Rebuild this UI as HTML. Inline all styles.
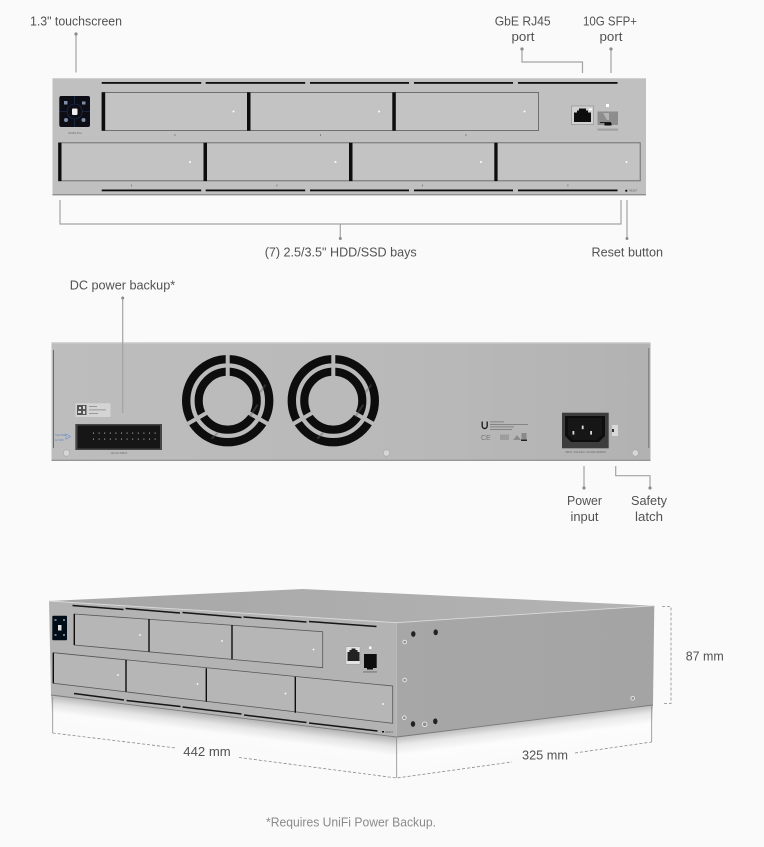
<!DOCTYPE html>
<html><head><meta charset="utf-8"><style>
html,body{margin:0;padding:0;background:#fafafa}
svg{display:block}
text{font-family:"Liberation Sans",sans-serif;fill:#525252;font-size:13px}
.t{font-size:2.5px;fill:#666}
.l{stroke:#a3a3a3;stroke-width:1.2;fill:none}
.d{fill:#8c8c8c}
.dash{stroke:#8a8a8a;stroke-width:.8;stroke-dasharray:3 2;fill:none}
.b{fill:#c3c3c3;stroke:#666;stroke-width:.9}
.k{fill:#0c0c0c}
.s{filter:url(#soft)}
</style></head><body>
<svg width="764" height="847" viewBox="0 0 764 847" xmlns="http://www.w3.org/2000/svg">
<defs>
<filter id="soft" x="-5%" y="-5%" width="110%" height="110%"><feGaussianBlur stdDeviation=".35"/></filter>
<linearGradient id="back" x1="0" y1="0" x2="1" y2="0"><stop offset="0" stop-color="#bdbdbd"/><stop offset=".6" stop-color="#b9b9b9"/><stop offset="1" stop-color="#b2b2b2"/></linearGradient>
<linearGradient id="ref1" gradientUnits="userSpaceOnUse" x1="224" y1="716" x2="219" y2="756"><stop offset="0" stop-color="#b4b4b4"/><stop offset=".22" stop-color="#e4e4e4"/><stop offset=".45" stop-color="#fbfbfb"/><stop offset="1" stop-color="#fafafa"/></linearGradient>
<linearGradient id="ref2" gradientUnits="userSpaceOnUse" x1="525" y1="721" x2="530" y2="761"><stop offset="0" stop-color="#bcbcbc"/><stop offset=".2" stop-color="#e8e8e8"/><stop offset=".45" stop-color="#fcfcfc"/><stop offset="1" stop-color="#fafafa"/></linearGradient>
<linearGradient id="side" x1="0" y1="0" x2="1" y2="0"><stop offset="0" stop-color="#a7a7a7"/><stop offset="1" stop-color="#a4a4a4"/></linearGradient>
<linearGradient id="top" x1="0" y1="0" x2="1" y2="0"><stop offset="0" stop-color="#a6a6a6"/><stop offset="1" stop-color="#b4b4b4"/></linearGradient>
<g id="fan">
<circle r="41.5" fill="none" stroke="#111" stroke-width="8.4"/>
<circle r="29" fill="none" stroke="#111" stroke-width="8.2"/>
<g stroke="#b9b9b9" stroke-width="4">
<line x1="0" y1="-22" x2="0" y2="-47"/>
<line x1="19" y1="11" x2="41" y2="23.7"/>
<line x1="-19" y1="11" x2="-41" y2="23.7"/>
</g>
<g stroke="#5c5c5c" stroke-width="2" opacity=".4">
<line x1="32" y1="-8" x2="38" y2="-16"/>
<line x1="-10" y1="32" x2="-16" y2="38"/>
<line x1="22" y1="16" x2="30" y2="4"/>
</g>
</g>
</defs>
<rect width="764" height="847" fill="#fafafa"/>

<!-- FRONT PANEL -->
<g class="s">
<rect x="52.5" y="78" width="593.5" height="117" fill="#c0c0c0"/>
<rect x="52.5" y="194" width="593.5" height="1.4" fill="#8e8e8e"/>
<rect x="52.5" y="78" width="593.5" height="1" fill="#d0d0d0"/>
<g class="k">
<rect x="101.7" y="82" width="99.5" height="1.8"/><rect x="205.7" y="82" width="99.5" height="1.8"/><rect x="310" y="82" width="99" height="1.8"/><rect x="414" y="82" width="99" height="1.8"/><rect x="518" y="82" width="99.5" height="1.8"/>
<rect x="101.7" y="189.5" width="99.5" height="1.8"/><rect x="205.7" y="189.5" width="99.5" height="1.8"/><rect x="310" y="189.5" width="99" height="1.8"/><rect x="414" y="189.5" width="99" height="1.8"/><rect x="518" y="189.5" width="99.5" height="1.8"/>
</g>
<rect class="b" x="102" y="92.5" width="436.5" height="38"/>
<rect class="b" x="58.5" y="142.8" width="581.7" height="38"/>
<g class="k">
<rect x="101.7" y="92.3" width="3.5" height="38.4"/><rect x="247" y="92.3" width="3.5" height="38.4"/><rect x="392.3" y="92.3" width="3.5" height="38.4"/>
<rect x="58.3" y="142.7" width="3.2" height="38.4"/><rect x="203.5" y="142.7" width="3.5" height="38.4"/><rect x="349" y="142.7" width="3.5" height="38.4"/><rect x="494.3" y="142.7" width="3.3" height="38.4"/>
</g>
<g fill="#fff"><circle cx="233.5" cy="111.5" r="1"/><circle cx="379" cy="111.5" r="1"/><circle cx="524.5" cy="111.5" r="1"/><circle cx="190" cy="162" r="1"/><circle cx="335.5" cy="162" r="1"/><circle cx="481" cy="162" r="1"/><circle cx="626.5" cy="162" r="1"/></g>
<g fill="#777"><rect x="174.5" y="134" width=".8" height="2"/><rect x="320" y="134" width=".8" height="2"/><rect x="465.5" y="134" width=".8" height="2"/><rect x="131" y="184.5" width=".8" height="2"/><rect x="276.5" y="184.5" width=".8" height="2"/><rect x="422" y="184.5" width=".8" height="2"/><rect x="567.5" y="184.5" width=".8" height="2"/></g>
<!-- touchscreen -->
<rect x="59.3" y="96" width="30.7" height="31" rx="2" fill="#070b16"/>
<g stroke="#27355f" stroke-width=".6" fill="none"><circle cx="74.7" cy="111.5" r="7.5"/><line x1="59.5" y1="111.5" x2="67" y2="111.5"/><line x1="82" y1="111.5" x2="90" y2="111.5"/><line x1="74.7" y1="96" x2="74.7" y2="104"/><line x1="74.7" y1="119" x2="74.7" y2="127"/></g>
<rect x="72" y="108.5" width="5.5" height="6.5" rx="1" fill="#eee"/>
<g fill="#7f8ea8"><rect x="64" y="101" width="3.5" height="3.5"/><rect x="82" y="101.5" width="3.5" height="3"/><circle cx="66" cy="120" r="2"/><circle cx="83.5" cy="120" r="2"/></g>
<text class="t" x="75" y="134" text-anchor="middle" style="font-size:3px">UNAS Pro</text>
<!-- rj45 -->
<rect x="571.5" y="106" width="22" height="18.5" fill="#d1d1d1" stroke="#8a8a8a" stroke-width=".6"/>
<path d="M574 112.5h3v-2h2v-2h7v2h2v2h3v9.5h-17z" fill="#0c0c0c"/>
<rect x="589" y="108.5" width="3" height="1.8" fill="#fff"/>
<!-- sfp -->
<rect x="597.5" y="111.5" width="20.5" height="13.5" fill="#8d8d8d"/>
<path d="M603 113l4 7h2v-7z" fill="#b3b3b3"/><rect x="600" y="122" width="11" height=".9" fill="#111"/><rect x="604.5" y="123" width="7" height="2.5" fill="#111"/>
<rect x="597.5" y="128.5" width="20.5" height="2.3" fill="#a2a2a2"/>
<rect x="606" y="104" width="3" height="3" fill="#fff"/>
<circle cx="626.3" cy="190.7" r="1.1" fill="#111"/>
<text class="t" x="629" y="191.7">RESET</text>
</g>

<!-- Top labels -->
<text x="30" y="25.5" textLength="92" lengthAdjust="spacingAndGlyphs">1.3" touchscreen</text>
<text x="494.7" y="25.5" textLength="56" lengthAdjust="spacingAndGlyphs">GbE RJ45</text>
<text x="511.5" y="41" textLength="23" lengthAdjust="spacingAndGlyphs">port</text>
<text x="583" y="25.5" textLength="54" lengthAdjust="spacingAndGlyphs">10G SFP+</text>
<text x="599.5" y="41" textLength="23" lengthAdjust="spacingAndGlyphs">port</text>
<path class="l" d="M76 34V72.5"/><circle class="d" cx="76" cy="34" r="1.6"/>
<path class="l" d="M522 49V62H582.5V73"/><circle class="d" cx="522" cy="49" r="1.6"/>
<path class="l" d="M611 49V73"/><circle class="d" cx="611" cy="49" r="1.6"/>
<path class="l" d="M60 200V224H621V200"/>
<path class="l" d="M340.3 224V238.5" stroke-width="1"/><circle class="d" cx="340.3" cy="238.5" r="1.5"/>
<path class="l" d="M627 200V238.5"/><circle class="d" cx="627" cy="238.5" r="1.5"/>
<text x="264.7" y="256.7" textLength="152" lengthAdjust="spacingAndGlyphs">(7) 2.5/3.5" HDD/SSD bays</text>
<text x="591.5" y="256.7" textLength="71.5" lengthAdjust="spacingAndGlyphs">Reset button</text>

<!-- BACK PANEL -->
<text x="69.7" y="289.3" textLength="105.5" lengthAdjust="spacingAndGlyphs">DC power backup*</text>
<g class="s">
<rect x="51.5" y="342.3" width="599" height="118.4" fill="url(#back)"/>
<rect x="51.5" y="342.3" width="599" height="1.2" fill="#cfcfcf"/>
<rect x="51.5" y="459.7" width="599" height="1.2" fill="#8f8f8f"/>
<rect x="53" y="350" width=".8" height="98" fill="#555"/>
<rect x="648.3" y="348" width="1" height="100" fill="#777"/>
<use href="#fan" x="227.7" y="400.7"/>
<use href="#fan" x="333.3" y="400.7"/>
<path class="l" d="M122.7 298V413" stroke="#7f7f7f" stroke-width="1"/><circle class="d" cx="122.7" cy="298" r="1.5"/>
<!-- QR label -->
<rect x="75.5" y="403.3" width="35" height="13.7" fill="#d4d4d4"/>
<rect x="77" y="405" width="9.5" height="10" fill="#555"/>
<path d="M79 407h2v2h-2zM83 406h2v3h-2zM78 411h3v2h-3zM83 411h2v3h-2z" fill="#ddd"/>
<g fill="#888"><rect x="89" y="406" width="8" height=".8"/><rect x="89" y="409.5" width="17" height=".8"/><rect x="89" y="413" width="9" height=".8"/></g>
<!-- connector -->
<rect x="75.3" y="424" width="86.7" height="26" fill="#464646"/>
<rect x="77.5" y="425.5" width="82.5" height="23" fill="#121212"/>
<g fill="#c8c8c8">
<rect x="93" y="432.6" width="1" height="1"/><rect x="98.6" y="432.6" width="1" height="1"/><rect x="104.2" y="432.6" width="1" height="1"/><rect x="109.8" y="432.6" width="1" height="1"/><rect x="115.4" y="432.6" width="1" height="1"/><rect x="121" y="432.6" width="1" height="1"/><rect x="126.6" y="432.6" width="1" height="1"/><rect x="132.2" y="432.6" width="1" height="1"/><rect x="137.8" y="432.6" width="1" height="1"/><rect x="143.4" y="432.6" width="1" height="1"/><rect x="149" y="432.6" width="1" height="1"/><rect x="154.6" y="432.6" width="1" height="1"/>
<rect x="93" y="438.6" width="1" height="1"/><rect x="98.6" y="438.6" width="1" height="1"/><rect x="104.2" y="438.6" width="1" height="1"/><rect x="109.8" y="438.6" width="1" height="1"/><rect x="115.4" y="438.6" width="1" height="1"/><rect x="121" y="438.6" width="1" height="1"/><rect x="126.6" y="438.6" width="1" height="1"/><rect x="132.2" y="438.6" width="1" height="1"/><rect x="137.8" y="438.6" width="1" height="1"/><rect x="143.4" y="438.6" width="1" height="1"/><rect x="149" y="438.6" width="1" height="1"/><rect x="154.6" y="438.6" width="1" height="1"/>
</g>
<text class="t" x="119" y="454" text-anchor="middle">12V DC INPUT</text>
<path d="M66 434l4.5 2.5-4.5 2.5z" fill="none" stroke="#6f96d4" stroke-width=".7"/>
<text class="t" x="55" y="436" style="fill:#5a7fb8">CAUTION</text>
<text class="t" x="55" y="441" style="fill:#5a7fb8">12 VDC</text>
<g fill="#d6d6d6" stroke="#9a9a9a" stroke-width=".5"><circle cx="66.5" cy="453" r="3.2"/><circle cx="386.5" cy="453" r="3.2"/><circle cx="635.3" cy="453" r="3.2"/></g>
<!-- regulatory -->
<path d="M481.5 421.5v4.5a3.2 3.2 0 0 0 6.4 0v-4.5h-1.4v4.5a1.8 1.8 0 0 1-3.6 0v-4.5z" fill="#222"/>
<g fill="#777"><rect x="490" y="421.5" width="14" height=".8"/><rect x="490" y="424" width="38" height=".8"/><rect x="490" y="426.5" width="24" height=".8"/><rect x="490" y="429" width="22" height=".8"/></g>
<text x="481" y="440" style="font-size:7px;fill:#777">CE</text>
<path d="M513 440l4-5 4 5z" fill="#8c8c8c"/><rect x="500" y="434.5" width="9" height="5.5" fill="#9d9d9d"/>
<rect x="521.5" y="433" width="5" height="6" fill="#8a8a8a"/><rect x="521" y="439.5" width="6" height="1.4" fill="#111"/>
<!-- socket -->
<rect x="562" y="412.7" width="46.7" height="35.6" fill="#3e3e3e"/>
<path d="M565 416h40v20l-6 6h-28l-6-6z" fill="#0d0d0d"/>
<path d="M568 418h34v17l-5 5h-24l-5-5z" fill="#161616"/>
<g fill="#d9d9d9"><rect x="572.5" y="431" width="1.8" height="3.6"/><rect x="581.8" y="425.6" width="1.8" height="3.6"/><rect x="590.2" y="431" width="1.8" height="3.6"/></g>
<rect x="612" y="425" width="6" height="11" fill="#d8d8d8"/><rect x="612" y="429" width="2" height="3" fill="#333"/>
<text class="t" x="585.5" y="453" text-anchor="middle">INPUT: 100-240V~ 6A MAX 50/60Hz</text>
</g>
<path class="l" d="M584 466V488" stroke="#8a8a8a"/><circle class="d" cx="584" cy="488" r="1.6"/>
<path class="l" d="M615.7 466V475.7H650V488" stroke="#8a8a8a"/><circle class="d" cx="650" cy="488" r="1.6"/>
<text x="567" y="505" textLength="35" lengthAdjust="spacingAndGlyphs">Power</text>
<text x="570.5" y="521" textLength="28" lengthAdjust="spacingAndGlyphs">input</text>
<text x="631" y="505" textLength="36" lengthAdjust="spacingAndGlyphs">Safety</text>
<text x="635" y="521" textLength="28" lengthAdjust="spacingAndGlyphs">latch</text>

<!-- 3D VIEW -->
<polygon points="51,695 396.7,737 396.7,778 51,735" fill="url(#ref1)"/>
<polygon points="396.7,737 653,705 653,742 396.7,778" fill="url(#ref2)"/>
<g class="s">
<polygon points="49,601 303,589 654.3,605.7 396.7,622.7" fill="url(#top)"/>
<polygon points="396.7,622.7 654.3,605.7 653,705 396.7,737" fill="url(#side)"/>
<polygon points="49,601 396.7,622.7 396.7,737 51,695" fill="#b3b3b3"/>
<path d="M49 601L396.7 622.7L654.3 605.7" stroke="#dadada" stroke-width=".9" fill="none"/>
<path d="M51 695L396.7 737L653 705" stroke="#7a7a7a" stroke-width=".9" fill="none"/>
<polygon points="74.3,614 322.7,631.7 322.7,667.7 74.3,645" fill="#b6b6b6" stroke="#555" stroke-width=".8"/>
<polygon points="53.3,652.7 392.7,686 392.7,723.3 53.3,683.3" fill="#b6b6b6" stroke="#555" stroke-width=".8"/>
<g stroke="#111" stroke-width="1.4" fill="none">
<path d="M74.3 614V645M149 619V651.7M232 625V659.3M53.3 652.7V683.3M126 660V691.7M206.3 668.3V701.7M295.3 676.7V712.7"/>
</g>
<g stroke="#141414" stroke-width="1.5" fill="none">
<path d="M72.5 605.5L123.5 609.5M125.5 608.5L180 613M182.5 612.5L241.5 617.5M243.5 617L306.5 622M309 621.5L376.5 626.5"/>
<path d="M74 693.5L124 700M126.5 700.5L180.5 706.5M182.5 707L241.5 714M244 715L306.5 722.5M309 723L377.5 731"/>
</g>
<rect x="52.3" y="615.7" width="14.7" height="24.5" rx="1" fill="#060a14"/>
<rect x="58" y="625" width="3.5" height="5.5" fill="#ddd"/>
<g fill="#6f7d96"><rect x="54.5" y="619" width="2" height="2"/><rect x="63" y="619" width="2" height="2"/><rect x="54.5" y="634" width="2" height="2"/><rect x="63" y="634" width="2" height="2"/></g>
<rect x="346" y="646.7" width="14" height="17.5" fill="#e4e4e4" stroke="#999" stroke-width=".4"/>
<path d="M347.5 652h2v-2h2v-1.5h4v1.5h2v2h2v9h-12z" fill="#222"/>
<rect x="364" y="654" width="12.7" height="14" fill="#0c0c0c"/>
<rect x="367" y="666.5" width="6" height="3" fill="#0c0c0c"/>
<rect x="369" y="646.5" width="2.5" height="2.5" fill="#fff"/>
<rect x="363" y="671" width="14" height="1.8" fill="#8f8f8f"/>
<g fill="#fff"><circle cx="140" cy="635" r=".9"/><circle cx="222" cy="641" r=".9"/><circle cx="313.5" cy="649.5" r=".9"/><circle cx="118" cy="675" r=".9"/><circle cx="197.5" cy="684" r=".9"/><circle cx="285.5" cy="693.5" r=".9"/><circle cx="383" cy="704" r=".9"/></g>
<rect x="382" y="731" width="2" height="1.5" fill="#111"/>
<text class="t" x="385" y="733">RESET</text>
<g fill="#222"><ellipse cx="413.3" cy="634" rx="2.2" ry="2.9"/><ellipse cx="435.7" cy="632.3" rx="2.2" ry="2.9"/><ellipse cx="413" cy="724" rx="2.2" ry="2.9"/><ellipse cx="435.3" cy="721.3" rx="2.2" ry="2.9"/></g>
<g fill="#8f8f8f" stroke="#e4e4e4" stroke-width="1"><circle cx="404.7" cy="642" r="1.8"/><circle cx="404.7" cy="680" r="1.8"/><circle cx="404.3" cy="717.7" r="1.8"/><circle cx="424.7" cy="724.3" r="2.3"/><circle cx="632.7" cy="698.3" r="1.8"/></g>
</g>
<!-- dims -->
<path d="M52.7 697V733M396.7 738V778M651.7 706V742" stroke="#8a8a8a" stroke-width=".8" fill="none"/>
<path class="dash" d="M52.7 733L176 748M239 757.5L396.7 778L512 762M575 753L651.7 742"/>
<path class="dash" d="M662 606.5H671V703.5H662" stroke-width="1"/>
<text x="183.3" y="756" textLength="47.4" lengthAdjust="spacingAndGlyphs">442 mm</text>
<text x="522" y="759.5" textLength="46" lengthAdjust="spacingAndGlyphs">325 mm</text>
<text x="685.7" y="660.7" textLength="38" lengthAdjust="spacingAndGlyphs">87 mm</text>
<text x="266" y="826.7" textLength="170" lengthAdjust="spacingAndGlyphs" style="fill:#8a8a8a">*Requires UniFi Power Backup.</text>
</svg>
</body></html>
